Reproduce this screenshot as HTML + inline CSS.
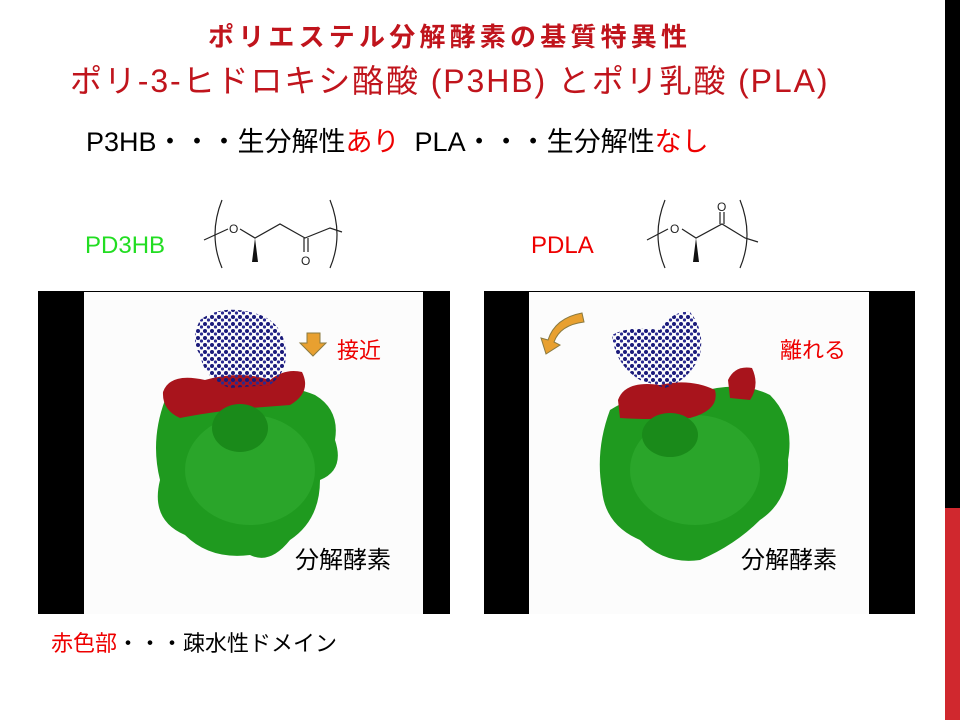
<!DOCTYPE html>
<html><head><meta charset="utf-8"><style>
body{margin:0;width:960px;height:720px;background:#fff;position:relative;overflow:hidden;font-family:"Liberation Sans","Noto Sans CJK JP",sans-serif}
.t{position:absolute;white-space:nowrap}
</style></head><body>
<div style="position:absolute;left:945px;top:0;width:15px;height:508px;background:#000"></div>
<div style="position:absolute;left:945px;top:508px;width:15px;height:212px;background:#d0282e"></div>
<div class="t" style="left:208px;top:17px;font-size:26px;font-weight:bold;color:#c0141c;letter-spacing:4.2px">ポリエステル分解酵素の基質特異性</div>
<div class="t" style="left:70px;top:56px;font-size:32px;color:#c0141c;letter-spacing:1.9px">ポリ-3-ヒドロキシ酪酸 (P3HB) とポリ乳酸 (PLA)</div>
<div class="t" style="left:86px;top:120px;font-size:27px;color:#000">P3HB・・・生分解性<span style="color:#e00">あり</span>&nbsp;&nbsp;PLA・・・生分解性<span style="color:#e00">なし</span></div>
<div class="t" style="left:85px;top:232px;font-size:24px;color:#22dd22">PD3HB</div>
<div class="t" style="left:531px;top:232px;font-size:24px;color:#e00">PDLA</div>
<svg style="position:absolute;left:0;top:0" width="960" height="720">
<defs>
<pattern id="dots" width="7" height="7" patternUnits="userSpaceOnUse"><circle cx="2" cy="2" r="2" fill="#1a1a7a"/><circle cx="5.5" cy="5" r="1.6" fill="#2a2a90"/></pattern>
</defs>
<g fill="none" stroke="#222" stroke-width="1.2">
<path d="M222 200 Q208 235 222 268"/><path d="M330 200 Q344 235 330 268"/>
<path d="M204 240 L228 229"/><path d="M240 229 L255 238 L280 224 L305 238 L330 228 L342 232"/>
<path d="M304 238 L304 252 M308 238 L308 252"/>
<path d="M665 200 Q651 235 665 268"/><path d="M740 200 Q754 235 740 268"/>
<path d="M647 240 L668 229"/><path d="M682 229 L696 238 L722 224 L745 238 L758 242"/>
<path d="M720 224 L720 212 M724 224 L724 212"/>
</g>
<g font-family="Liberation Sans" font-size="12" fill="#222">
<text x="229" y="233">O</text><text x="301" y="265">O</text>
<text x="670" y="233">O</text><text x="717" y="211">O</text>
</g>
<polygon points="255,238 252,262 258,262" fill="#111"/>
<polygon points="696,238 693,262 699,262" fill="#111"/>
<rect x="38" y="291" width="412" height="323" fill="#000"/>
<rect x="84" y="292" width="339" height="322" fill="#fcfcfc"/>
<path d="M165 400 Q150 440 160 480 Q150 520 185 535 Q210 560 250 555 Q270 565 290 540 Q320 520 320 480 Q345 470 335 440 Q340 410 315 395 Q280 380 230 395 Q180 390 165 400Z" fill="#1f9a1f"/>
<ellipse cx="250" cy="470" rx="65" ry="55" fill="#2aa52a"/>
<path d="M163 392 Q170 372 205 380 Q240 370 270 380 Q285 368 302 372 Q312 392 290 405 L250 408 Q210 412 180 418 Q162 410 163 392Z" fill="#a8141c"/>
<ellipse cx="240" cy="428" rx="28" ry="24" fill="#1a8a1a"/>
<path d="M200 320 Q220 305 250 312 Q280 318 285 345 Q290 370 270 385 L230 388 Q205 380 200 355 Q190 340 200 320Z" fill="url(#dots)"/>
<polygon points="307,333 320,333 320,343 326,343 313,356 300,343 307,343" fill="#e8a030" stroke="#8a7a40"/>
<rect x="484" y="291" width="431" height="323" fill="#000"/>
<rect x="529" y="292" width="340" height="322" fill="#fcfcfc"/>
<path d="M610 410 Q595 450 602 490 Q605 525 640 540 Q665 565 700 560 Q735 545 760 520 Q790 500 788 460 Q795 420 770 395 Q740 380 700 392 Q650 385 610 410Z" fill="#1f9a1f"/>
<ellipse cx="695" cy="470" rx="65" ry="55" fill="#2aa52a"/>
<path d="M618 400 Q625 380 660 385 Q690 378 715 390 Q720 410 690 418 Q650 420 620 418Z" fill="#a8141c"/>
<path d="M728 380 Q735 365 752 368 Q760 385 750 400 L730 398Z" fill="#a8141c"/>
<ellipse cx="670" cy="435" rx="28" ry="22" fill="#1a8a1a"/>
<path d="M612 335 Q630 325 660 330 Q672 310 690 312 Q705 330 700 355 Q690 380 665 388 L640 380 Q615 365 612 335Z" fill="url(#dots)"/>
<path d="M582 313 Q555 318 548 340 L541 338 L546 354 L560 345 L554 342 Q560 325 584 322 Z" fill="#e8a030" stroke="#8a7a40"/>
</svg>
<div class="t" style="left:337px;top:333px;font-size:22px;color:#e00">接近</div>
<div class="t" style="left:780px;top:333px;font-size:22px;color:#e00">離れる</div>
<div class="t" style="left:295px;top:540px;font-size:24px;color:#000">分解酵素</div>
<div class="t" style="left:741px;top:540px;font-size:24px;color:#000">分解酵素</div>
<div class="t" style="left:51px;top:626px;font-size:22px;color:#000"><span style="color:#e00">赤色部</span>・・・疎水性ドメイン</div>
</body></html>
